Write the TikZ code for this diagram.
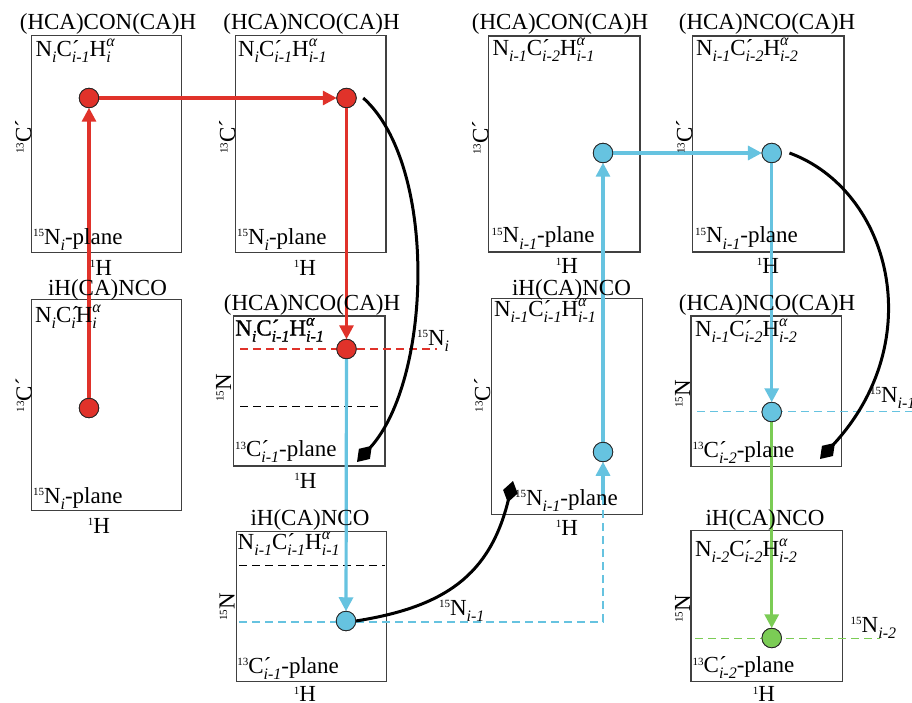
\documentclass[tikz,border=0pt]{standalone}
\usepackage{fontspec}
\setmainfont{Liberation Serif}
\newfontfamily\heavyserif[FakeBold=1.2]{Liberation Serif}
\usetikzlibrary{arrows.meta}

\definecolor{pkred}{HTML}{E0322A}
\definecolor{pkblue}{HTML}{66C3E0}
\definecolor{pkgreen}{HTML}{7BCC55}

% italic subscript, isotope superscript, primed carbon, H-alpha with subscript
\newcommand\sbs[1]{\raisebox{-6pt}{\fontsize{16}{16}\selectfont\itshape #1}}
\newcommand\iso[1]{\raisebox{7.5pt}{\fontsize{11}{11}\selectfont #1}}
\newcommand\Cac{C\rlap{´}}
\newcommand\Hal[1]{H\rlap{\raisebox{10pt}{\fontsize{16}{16}\selectfont\itshape α}}\sbs{#1}}

\begin{document}
\begin{tikzpicture}[x=1pt,y=-1pt,
  every node/.style={font=\fontsize{23}{26}\selectfont, inner sep=0pt, outer sep=0pt},
  panel/.style={draw=black!75, line width=1.2pt, rectangle, inner sep=0pt},
  dot/.style={circle, draw=black!85, line width=0.8pt, fill=#1, minimum size=19.5pt, inner sep=0pt},
  flow/.style={draw=#1, line width=3.2pt, -{Triangle[length=14pt,width=14pt]}},
  guide/.style={draw=#1, line width=1.3pt, dash pattern=on 8pt off 5pt},
  hop/.style={draw=black, line width=3pt, -{Diamond[length=22pt,width=15pt]}},
  ttl/.style={anchor=base},
  lbl/.style={anchor=base west},
  axis/.style={rotate=90, anchor=base},
]
\useasboundingbox (0,0) rectangle (912,703);
\fill[white] (0,0) rectangle (912,703);

% ---- spectrum panels
\node[panel, minimum width=150pt, minimum height=216.6pt] (pA) at (106.7,144) {};
\node[panel, minimum width=150.7pt, minimum height=216.6pt] (pB) at (310.7,144) {};
\node[panel, minimum width=151.7pt, minimum height=216pt] (pC) at (564.2,144) {};
\node[panel, minimum width=151.7pt, minimum height=216pt] (pD) at (768.2,144) {};
\node[panel, minimum width=150pt, minimum height=211.4pt] (pE) at (106.7,405) {};
\node[panel, minimum width=151.7pt, minimum height=150pt] (pF) at (309.2,391) {};
\node[panel, minimum width=151pt, minimum height=216pt] (pG) at (567.2,406.4) {};
\node[panel, minimum width=150.7pt, minimum height=150.5pt] (pH) at (766.4,391.2) {};
\node[panel, minimum width=150pt, minimum height=150pt] (pI) at (311.7,606.7) {};
\node[panel, minimum width=151.3pt, minimum height=151pt] (pJ) at (766.7,606.2) {};

% ---- peaks
\node[dot=pkred] (dA) at (89,98) {};
\node[dot=pkred] (dB) at (346.5,98) {};
\node[dot=pkred] (dE) at (89,408) {};
\node[dot=pkred] (dF) at (346.5,349) {};
\node[dot=pkblue] (dI) at (346,621) {};
\node[dot=pkblue] (dC) at (603,153) {};
\node[dot=pkblue] (dG) at (603,452) {};
\node[dot=pkblue] (dD) at (771.7,153) {};
\node[dot=pkblue] (dH) at (771.7,412) {};
\node[dot=pkgreen] (dJ) at (771.7,638) {};

% ---- dashed plane markers
\draw[guide=pkred] (240,349) -- (437,349);
\draw[guide=black] (240,406.5) -- (380,406.5);
\draw[guide=black] (239,565.5) -- (385,565.5);
\draw[guide=pkblue] (697,411.5) -- (920,411.5);
\draw[guide=pkgreen] (695,638.5) -- (880,638.5);
\coordinate (cornerI) at (603,622);
\coordinate (riseG) at (603,500);
\draw[guide=pkblue] (239,622) -- (cornerI) -- (riseG);

% ---- walk-through arrows
\draw[flow=pkred] (dE) -- (dA);
\draw[flow=pkred] (dA) -- (dB);
\draw[flow=pkred] (dB) -- (dF);
\draw[flow=pkblue] (dF) -- (dI);
\draw[flow=pkblue] (riseG) -- (dG);
\draw[flow=pkblue] (dG) -- (dC);
\draw[flow=pkblue] (dC) -- (dD);
\draw[flow=pkblue] (dD) -- (dH);
\draw[flow=pkgreen] (dH) -- (dJ);

% ---- plane jumps
\coordinate (kF) at (357,462);
\coordinate (kH) at (820,459);
\coordinate (kG) at (513,481);
\draw[hop] ([xshift=7pt]dB.east) .. controls (438,165) and (432,380) .. (kF);
\draw[hop] ([xshift=8pt]dD.east) .. controls (890,190) and (930,340) .. (kH);
\draw[hop] (dI.east) .. controls (445,607) and (490,575) .. (kG);

% redraw peaks above the lines
\foreach \d/\c in {dA/pkred,dB/pkred,dE/pkred,dF/pkred,dI/pkblue,dC/pkblue,dG/pkblue,dD/pkblue,dH/pkblue,dJ/pkgreen}
  \filldraw[fill=\c, draw=black!85, line width=0.8pt] (\d.center) circle (9.75pt);

% ---- experiment titles
\node[ttl] (tA) at (108,30) {(HCA)CON(CA)H};
\node[ttl] (tB) at (311.5,30) {(HCA)NCO(CA)H};
\node[ttl] (tC) at (560,30) {(HCA)CON(CA)H};
\node[ttl] (tD) at (767,30) {(HCA)NCO(CA)H};
\node[ttl] (tE) at (107.5,295) {iH(CA)NCO};
\node[ttl] (tF) at (312,310) {(HCA)NCO(CA)H};
\node[ttl] (tG) at (571.5,295) {iH(CA)NCO};
\node[ttl] (tH) at (767,310) {(HCA)NCO(CA)H};
\node[ttl] (tI) at (310,525) {iH(CA)NCO};
\node[ttl] (tJ) at (765,525) {iH(CA)NCO};

% ---- correlation labels
\node[lbl] (cA) at (35.5,57) {N\sbs{i}\Cac\sbs{i-1}\Hal{i}};
\node[lbl] (cB) at (238,57) {N\sbs{i}\Cac\sbs{i-1}\Hal{i-1}};
\node[lbl] (cC) at (492.5,56) {N\sbs{i-1}\Cac\sbs{i-2}\Hal{i-1}};
\node[lbl] (cD) at (696,56) {N\sbs{i-1}\Cac\sbs{i-2}\Hal{i-2}};
\node[lbl] (cE) at (35,322.5) {N\sbs{i}\Cac\sbs{i}\Hal{i}};
\node[lbl, font=\fontsize{23}{26}\heavyserif] (cF) at (235.3,335.5) {N\sbs{i}\Cac\sbs{i-1}\Hal{i-1}};
\node[lbl] (cG) at (494,316.7) {N\sbs{i-1}\Cac\sbs{i-1}\Hal{i-1}};
\node[lbl] (cH) at (695,336.5) {N\sbs{i-1}\Cac\sbs{i-2}\Hal{i-2}};
\node[lbl] (cI) at (237.7,549) {N\sbs{i-1}\Cac\sbs{i-1}\Hal{i-1}};
\node[lbl] (cJ) at (695,556) {N\sbs{i-2}\Cac\sbs{i-2}\Hal{i-2}};

% ---- plane labels
\node[lbl] (nA) at (33,244) {\iso{15}N\sbs{i}-plane};
\node[lbl] (nB) at (237,244) {\iso{15}N\sbs{i}-plane};
\node[lbl] (nC) at (491.7,243) {\iso{15}N\sbs{i-1}-plane};
\node[lbl] (nD) at (695,243) {\iso{15}N\sbs{i-1}-plane};
\node[lbl] (nE) at (33,503) {\iso{15}N\sbs{i}-plane};
\node[lbl] (nF) at (235,456.7) {\iso{13}\Cac\sbs{i-1}-plane};
\node[lbl] (nG) at (515,505) {\iso{15}N\sbs{i-1}-plane};
\node[lbl] (nH) at (692.7,457) {\iso{13}\Cac\sbs{i-2}-plane};
\node[lbl] (nI) at (237.3,673) {\iso{13}\Cac\sbs{i-1}-plane};
\node[lbl] (nJ) at (692.7,672.5) {\iso{13}\Cac\sbs{i-2}-plane};

% ---- horizontal axes
\node[ttl] (hA) at (101,275) {\iso{1}H};
\node[ttl] (hB) at (305,275) {\iso{1}H};
\node[ttl] (hC) at (567,273) {\iso{1}H};
\node[ttl] (hD) at (768,273) {\iso{1}H};
\node[ttl] (hE) at (99,533) {\iso{1}H};
\node[ttl] (hF) at (305.5,488) {\iso{1}H};
\node[ttl] (hG) at (567,535) {\iso{1}H};
\node[ttl] (hI) at (305,701.5) {\iso{1}H};
\node[ttl] (hJ) at (764,701.5) {\iso{1}H};

% ---- vertical axes
\node[axis] (vA) at (31,137) {\iso{13}C´};
\node[axis] (vB) at (235,137) {\iso{13}C´};
\node[axis] (vC) at (488,138) {\iso{13}C´};
\node[axis] (vD) at (692,137) {\iso{13}C´};
\node[axis] (vE) at (31.5,395) {\iso{13}C´};
\node[axis] (vF) at (231,388) {\iso{15}N};
\node[axis] (vG) at (490,395) {\iso{13}C´};
\node[axis] (vH) at (690,394) {\iso{15}N};
\node[axis] (vI) at (234.5,607) {\iso{15}N};
\node[axis] (vJ) at (690,609) {\iso{15}N};

% ---- nitrogen plane tags on the dashed markers
\node[lbl] (gF) at (417,345) {\iso{15}N\sbs{i}};
\node[lbl] (gH) at (870,402) {\iso{15}N\sbs{i-1}};
\node[lbl] (gI) at (439,615) {\iso{15}N\sbs{i-1}};
\node[lbl] (gJ) at (850.7,632) {\iso{15}N\sbs{i-2}};
\end{tikzpicture}
\end{document}
